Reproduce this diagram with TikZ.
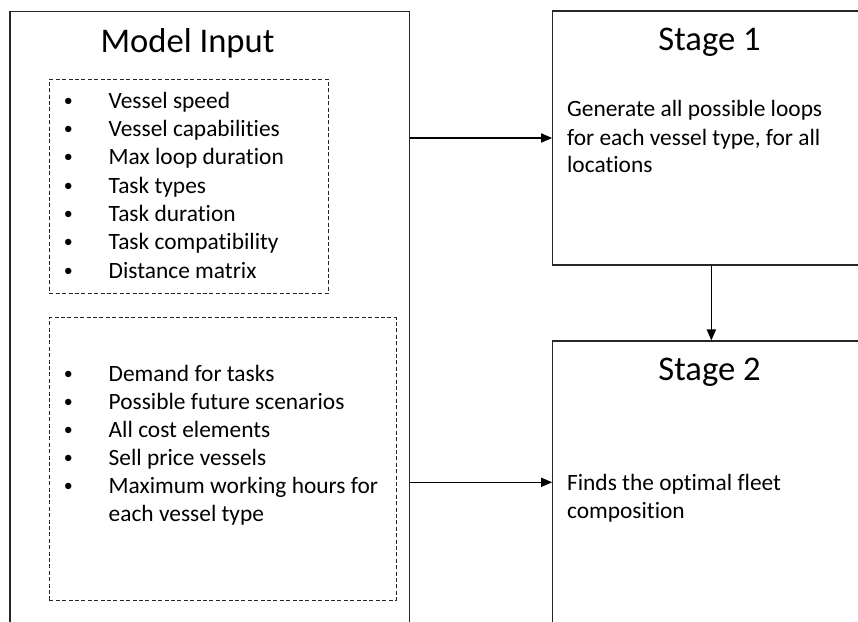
\documentclass[tikz,border=0pt]{standalone}
\usepackage{fontspec}
\setmainfont{Carlito}[Ligatures=NoCommon]
\usetikzlibrary{arrows.meta}

\begin{document}
\begin{tikzpicture}[
    x=0.5pt, y=-0.5pt,
    block/.style={rectangle, draw=black!85, line width=0.6pt, inner sep=0pt},
    group/.style={rectangle, draw=black!85, line width=0.5pt, dash pattern=on 2pt off 1.2pt, inner sep=0pt},
    title/.style={font=\fontsize{17.3}{20}\selectfont, anchor=base, inner sep=0pt},
    item/.style={font=\fontsize{11.7}{14}\selectfont, anchor=base west, inner sep=0pt},
    dot/.style={font=\fontsize{9}{11}\selectfont, anchor=base, inner sep=0pt},
    flow/.style={-{Triangle[length=5.5pt,width=4.6pt]}, line width=0.6pt}
  ]
    \useasboundingbox (0,0) rectangle (858,622);
    \clip (0,0) rectangle (858,622);

    % main boxes
    \node[block, minimum width=199.65pt, minimum height=306.15pt] (input) at (209.65,317.85) {};
    \node[block, minimum width=158.65pt, minimum height=127pt] (stage1) at (711.35,138) {};
    \node[block, minimum width=158.65pt, minimum height=141.3pt] (stage2) at (711.35,482.3) {};

    % dashed groups of inputs
    \node[group, minimum width=139.5pt, minimum height=107pt] (group1) at (188.8,186.3) {};
    \node[group, minimum width=173.35pt, minimum height=141.15pt] (group2) at (222.65,458.85) {};

    % titles
    \node[title] (inputtitle) at (187.5,52.7) {Model Input};
    \node[title] (stage1title) at (709.5,50) {Stage 1};
    \node[title] (stage2title) at (709.5,380) {Stage 2};

    % first list
    \foreach \txt [count=\i] in {Vessel speed, Vessel capabilities, Max loop duration,
        Task types, Task duration, Task compatibility, Distance matrix} {
      \node[dot] (b\i) at (68.3,78+28.3*\i) {\textbullet};
      \node[item] (p\i) at (108.3,80+28.3*\i) {\txt};
    }

    % second list
    \foreach \txt [count=\i] in {Demand for tasks, Possible future scenarios, All cost elements,
        Sell price vessels, Maximum working hours for} {
      \node[dot] (c\i) at (68.3,350.9+28.1*\i) {\textbullet};
      \node[item] (q\i) at (108.3,352.9+28.1*\i) {\txt};
    }
    \node[item] (q6) at (108.3,521.7) {each vessel type};

    % stage texts
    \node[item] (s1a) at (566.7,116.7) {Generate all possible loops};
    \node[item] (s1b) at (566.7,145) {for each vessel type, for all};
    \node[item] (s1c) at (566.7,172.7) {locations};
    \node[item] (s2a) at (566.7,490) {Finds the optimal fleet};
    \node[item] (s2b) at (566.7,518.3) {composition};

    % connectors
    \draw[flow] (input.east |- stage1.west) -- (stage1.west);
    \draw[flow] (input.east |- stage2.west) -- (stage2.west);
    \draw[flow] (stage1.south) -- (stage2.north);
  \end{tikzpicture}
\end{document}
